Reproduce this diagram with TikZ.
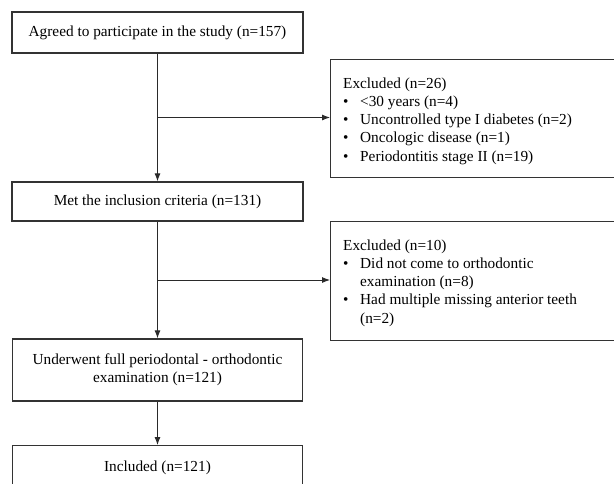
\documentclass[tikz,border=0pt]{standalone}
\usepackage{fontspec}
\setmainfont{Liberation Serif}
\usetikzlibrary{arrows.meta,calc}
\definecolor{boxline}{HTML}{333333}
\definecolor{conn}{HTML}{2A2A2A}
\begin{document}
\begin{tikzpicture}[x=1pt,y=-1pt,
  font=\fontsize{15.3}{18.3}\selectfont,
  box/.style={draw=boxline,line width=1.3pt,rectangle,align=center,inner sep=0pt},
  listtext/.style={anchor=north west,inner sep=0pt,align=left},
  arr/.style={draw=conn,line width=0.9pt,-{Latex[length=8pt,width=6pt]}}]
\useasboundingbox (0,0) rectangle (614,483);
\fill[white] (0,0) rectangle (614,483);
% main column
\node[box,minimum width=291pt,minimum height=41pt] (a) at (157.5,32.5) {Agreed to participate in the study (n=157)};
\node[box,minimum width=291pt,minimum height=39pt] (b) at (157.5,201.5) {Met the inclusion criteria (n=131)};
\node[box,minimum width=290pt,minimum height=62pt] (c) at (157.5,370) {Underwent full periodontal - orthodontic\\examination (n=121)};
\node[box,minimum width=290pt,minimum height=80pt,anchor=north] (d) at (157.5,445) {};
\node[inner sep=0pt] (dt) at (157.5,468) {Included (n=121)};
% exclusion boxes
\node[box,minimum width=310pt,minimum height=118pt,anchor=north west] (e1) at (330,59) {};
\node[box,minimum width=310pt,minimum height=119pt,anchor=north west] (e2) at (330,221) {};
\node[listtext] (e1t) at (343,75) {\begin{tabular}{@{}p{17pt}@{}l@{}}
\multicolumn{2}{@{}l@{}}{Excluded (n=26)}\\
\textbullet & <30 years (n=4)\\
\textbullet & Uncontrolled type I diabetes (n=2)\\
\textbullet & Oncologic disease (n=1)\\
\textbullet & Periodontitis stage II (n=19)
\end{tabular}};
\node[listtext] (e2t) at (343,237) {\begin{tabular}{@{}p{17pt}@{}l@{}}
\multicolumn{2}{@{}l@{}}{Excluded (n=10)}\\
\textbullet & Did not come to orthodontic\\
 & examination (n=8)\\
\textbullet & Had multiple missing anterior teeth\\
 & (n=2)
\end{tabular}};
% connectors
\coordinate (j1) at ($(a.south)!0.5!(b.north)$);
\coordinate (j2) at ($(b.south)!0.5!(c.north)$);
\draw[arr] (a.south) -- (b.north);
\draw[arr] (b.south) -- (c.north);
\draw[arr] (c.south) -- (d.north);
\draw[arr] (j1) -- (j1 -| e1.west);
\draw[arr] (j2) -- (j2 -| e2.west);
\end{tikzpicture}
\end{document}
